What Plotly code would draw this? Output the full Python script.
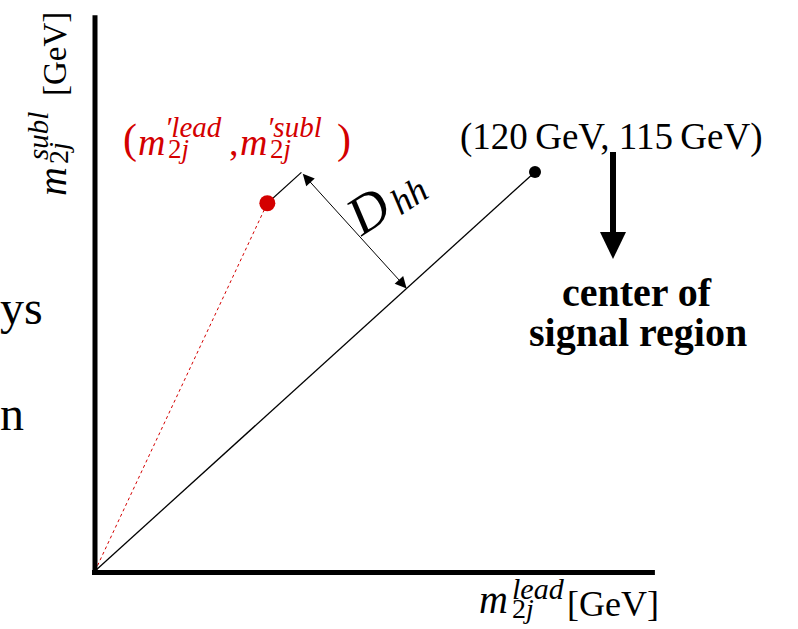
import math
import plotly.graph_objects as go

# ---------------- data (GeV) ----------------
origin = [0, 0]
center_point = [120, 115]      # center of signal region
event_point = [47, 106]        # (m'lead_2j, m'subl_2j)
axis_end_x = 152.7
axis_end_y = 160.2
center_label = "(120\u2009GeV, 115\u2009GeV)"

# ---------------- layout geometry ----------------
W, H = 798, 629
OX, OY = 95, 571               # pixel position of the origin
XS = 440 / 120                  # px per GeV, x
YS = 399 / 115                  # px per GeV, y
xr = [-OX / XS, (W - OX) / XS]
yr = [-(H - OY) / YS, OY / YS]


def dx(px):
    return (px - OX) / XS


def dy(py):
    return (OY - py) / YS


def tpx(p):
    return (OX + p[0] * XS, OY - p[1] * YS)


def px(x):
    return x / W


def py(y):
    return 1 - y / H


SERIF = "Liberation Serif"
RED = "#d40000"

fig = go.Figure()

# diagonal to center of signal region
fig.add_trace(go.Scatter(x=[origin[0], center_point[0]], y=[origin[1], center_point[1]],
                         mode="lines", line=dict(color="black", width=1.3),
                         hoverinfo="skip", showlegend=False))
# dotted red line to event
fig.add_trace(go.Scatter(x=[origin[0], event_point[0]], y=[origin[1], event_point[1]],
                         mode="lines", line=dict(color=RED, width=1, dash="dot"),
                         hoverinfo="skip", showlegend=False))

# D_hh construction (perpendicular, shifted along the diagonal)
cxp, cyp = tpx(center_point)
rxp, ryp = tpx(event_point)
L = math.hypot(cxp - OX, cyp - OY)
ux, uy = (cxp - OX) / L, (cyp - OY) / L
t = (rxp - OX) * ux + (ryp - OY) * uy
footx, footy = OX + t * ux, OY + t * uy
off = 46
ext = (rxp + off * ux, ryp + off * uy)
aend = (footx + off * ux, footy + off * uy)

fig.add_trace(go.Scatter(x=[event_point[0], dx(ext[0])], y=[event_point[1], dy(ext[1])],
                         mode="lines", line=dict(color="black", width=1.2),
                         hoverinfo="skip", showlegend=False))

# points
fig.add_trace(go.Scatter(x=[center_point[0]], y=[center_point[1]], mode="markers",
                         marker=dict(color="black", size=12), hoverinfo="skip", showlegend=False))
fig.add_trace(go.Scatter(x=[event_point[0]], y=[event_point[1]], mode="markers",
                         marker=dict(color=RED, size=16), hoverinfo="skip", showlegend=False))

shapes = [
    # axes
    dict(type="line", xref="x", yref="y", x0=0, x1=0, y0=dy(575), y1=axis_end_y,
         line=dict(color="black", width=5)),
    dict(type="line", xref="x", yref="y", x0=dx(92), x1=axis_end_x, y0=dy(572.5), y1=dy(572.5),
         line=dict(color="black", width=5)),
    # down arrow
    dict(type="line", xref="x", yref="y", x0=dx(613), x1=dx(613), y0=dy(152), y1=dy(236),
         line=dict(color="black", width=6)),
    dict(type="path", xref="x", yref="y",
         path=f"M {dx(600)},{dy(232)} L {dx(626)},{dy(232)} L {dx(613)},{dy(259)} Z",
         fillcolor="black", line=dict(color="black", width=0)),
]

ann = []


def txt(s, x, y, size, color="black", xanchor="center", yanchor="middle", angle=0):
    ann.append(dict(text=s, x=px(x), y=py(y), xref="paper", yref="paper",
                    xanchor=xanchor, yanchor=yanchor, showarrow=False, textangle=angle,
                    font=dict(family=SERIF, size=size, color=color)))


# dimension arrow D_hh
ann.append(dict(text="", x=dx(aend[0]), y=dy(aend[1]), ax=dx(ext[0]), ay=dy(ext[1]),
                xref="x", yref="y", axref="x", ayref="y", showarrow=True,
                arrowhead=2, startarrowhead=2, arrowside="end+start", arrowsize=2.3,
                startarrowsize=2.3, arrowwidth=1, arrowcolor="black", standoff=0, startstandoff=0))
txt("<i>D</i>", 368, 211, 54, angle=-33)
txt("<i>hh</i>", 409, 196, 36, angle=-33)

# y-axis label (rotated)
txt("<i>m</i>", 53, 182, 40, angle=-90)
txt("<i>subl</i>", 38, 136, 29, angle=-90)
txt("2<i>j</i>", 59, 153, 28, angle=-90)
txt("[GeV]", 55, 54, 33, angle=-90)

# x-axis label
txt("<i>m</i>", 477, 599, 40, xanchor="left")
txt("<i>lead</i>", 510, 588, 30, xanchor="left")
txt("2<i>j</i>", 510, 608, 28, xanchor="left")
txt("[GeV]", 565, 604, 36, xanchor="left")

# red event label
txt("(", 121, 139, 42, RED, xanchor="left")
txt("<i>m</i>", 136, 142, 38, RED, xanchor="left")
txt("<i>\u2032lead</i>", 163, 127, 29, RED, xanchor="left")
txt("2<i>j</i>", 166, 149, 27, RED, xanchor="left")
txt(",", 227, 142, 38, RED, xanchor="left")
txt("<i>m</i>", 238, 142, 38, RED, xanchor="left")
txt("<i>\u2032subl</i>", 265, 127, 29, RED, xanchor="left")
txt("2<i>j</i>", 268, 149, 27, RED, xanchor="left")
txt(")", 335, 139, 42, RED, xanchor="left")

# center label
txt(center_label, 611, 137, 37)
txt("<b>center of</b>", 637, 292, 40)
txt("<b>signal region</b>", 638, 332, 40)

# cut-off text at left edge
txt("ys", -2, 307, 48, xanchor="left")
txt("n", -2, 414, 48, xanchor="left")

fig.update_layout(
    width=W, height=H, margin=dict(l=0, r=0, t=0, b=0),
    paper_bgcolor="white", plot_bgcolor="white",
    xaxis=dict(range=xr, visible=False, fixedrange=True),
    yaxis=dict(range=yr, visible=False, fixedrange=True),
    shapes=shapes, annotations=ann, showlegend=False,
)

fig.write_html("out.html")
